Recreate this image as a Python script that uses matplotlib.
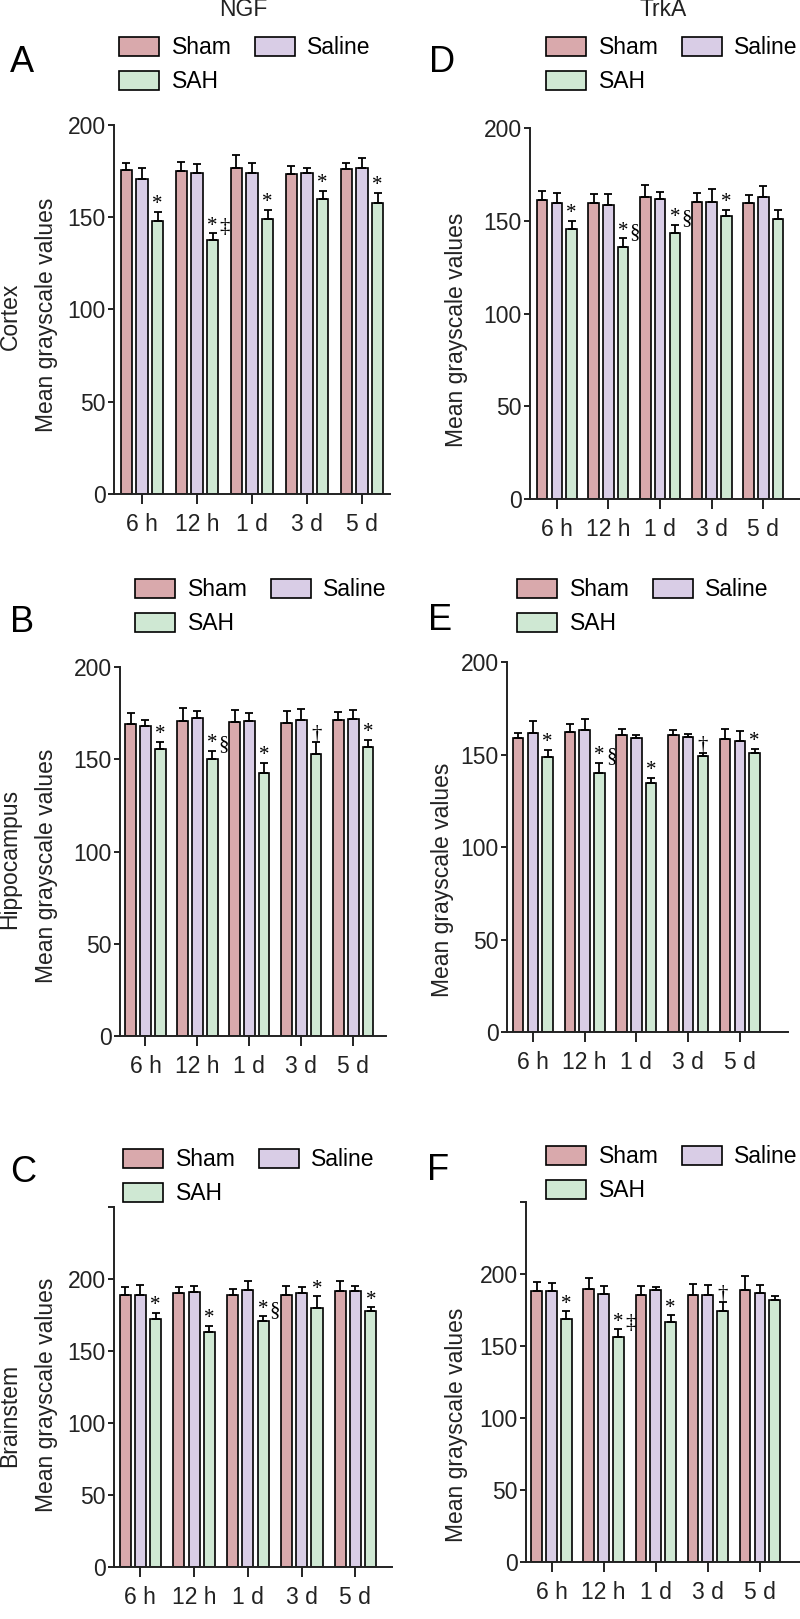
import matplotlib
matplotlib.use("Agg")
import matplotlib.pyplot as plt
from matplotlib.patches import Patch
import numpy as np

plt.rcParams['font.family'] = ['Liberation Sans', 'DejaVu Sans']

W, H = 800, 1619

times = ['6 h', '12 h', '1 d', '3 d', '5 d']
groups = ['Sham', 'Saline', 'SAH']
colors = ['#d9a9ac', '#d9cde6', '#cfe8d3']

# NGF - cortex (A)
a_sham = [175.6, 175.3, 176.5, 173.5, 176.4]
a_sham_sem = [4.0, 4.5, 7.3, 4.5, 3.0]
a_saline = [170.8, 173.8, 174.2, 173.8, 176.9]
a_saline_sem = [6.1, 5.1, 5.0, 3.1, 5.0]
a_sah = [147.8, 137.7, 149.1, 159.7, 157.6]
a_sah_sem = [5.3, 3.6, 4.9, 4.6, 5.4]
a_marks = ['*', '*‡', '*', '*', '*']

# NGF - hippocampus (B)
b_sham = [169.3, 170.9, 170.0, 169.9, 171.1]
b_sham_sem = [5.8, 6.9, 6.5, 6.3, 4.7]
b_saline = [167.9, 172.6, 170.8, 171.5, 171.7]
b_saline_sem = [3.6, 3.4, 4.3, 5.9, 4.8]
b_sah = [155.8, 150.4, 142.8, 153.1, 156.7]
b_sah_sem = [3.8, 4.1, 5.2, 6.1, 3.9]
b_marks = ['*', '*§', '*', '†', '*']

# NGF - brainstem (C)
c_sham = [189.1, 190.3, 188.7, 188.9, 191.4]
c_sham_sem = [5.3, 3.9, 4.4, 6.5, 7.4]
c_saline = [189.1, 191.0, 192.6, 190.3, 191.4]
c_saline_sem = [7.0, 4.1, 6.2, 4.1, 3.7]
c_sah = [172.5, 163.4, 170.8, 179.9, 177.8]
c_sah_sem = [3.7, 4.2, 3.3, 8.1, 2.5]
c_marks = ['*', '*', '*§', '*', '*']

# TrkA - cortex (D)
d_sham = [161.2, 159.5, 162.8, 160.3, 159.7]
d_sham_sem = [5.0, 4.9, 6.6, 4.7, 4.0]
d_saline = [159.4, 158.3, 161.5, 160.3, 162.6]
d_saline_sem = [5.6, 6.1, 3.8, 6.7, 6.4]
d_sah = [145.5, 136.0, 143.3, 152.3, 150.7]
d_sah_sem = [4.5, 4.5, 4.5, 3.6, 5.1]
d_marks = ['*', '*§', '*§', '*', '']

# TrkA - hippocampus (E)
e_sham = [158.9, 162.0, 160.5, 160.4, 158.2]
e_sham_sem = [2.9, 4.3, 3.5, 2.6, 5.8]
e_saline = [161.6, 163.4, 158.7, 159.6, 157.5]
e_saline_sem = [6.3, 6.0, 1.8, 1.7, 5.0]
e_sah = [148.5, 140.0, 134.6, 149.0, 150.8]
e_sah_sem = [4.1, 5.6, 2.9, 2.0, 2.2]
e_marks = ['*', '*§', '*', '†', '*']

# TrkA - brainstem (F)
f_sham = [188.2, 189.6, 185.2, 185.6, 188.6]
f_sham_sem = [6.0, 7.9, 6.2, 7.2, 10.0]
f_saline = [187.9, 186.1, 188.9, 185.2, 187.0]
f_saline_sem = [5.8, 5.6, 2.3, 7.2, 5.6]
f_sah = [168.5, 156.0, 166.6, 174.5, 182.2]
f_sah_sem = [5.5, 5.5, 4.7, 6.3, 2.5]
f_marks = ['*', '*‡', '*', '†', '']


def box(x0, x1, ytop, ybot):
    return [x0 / W, 1 - ybot / H, (x1 - x0) / W, (ybot - ytop) / H]


def draw_panel(ax, means, sems, marks, xlim, ytop, step, width):
    x = np.arange(len(times))
    for i, (m, s) in enumerate(zip(means, sems)):
        xs = x + (i - 1) * step
        ax.bar(xs, m, width, color=colors[i], edgecolor='black', linewidth=1.2, zorder=2)
        ax.errorbar(xs, m, yerr=[np.zeros(len(s)), s], fmt='none', ecolor='black',
                    elinewidth=1.3, capsize=3, capthick=1.3, zorder=3)
    sah_top = np.array(means[2]) + np.array(sems[2])
    for j, mk in enumerate(marks):
        if not mk:
            continue
        xs = x[j] + step
        ax.annotate(mk[0], xy=(xs, sah_top[j]), xytext=(0, 2), textcoords='offset points',
                    ha='center', va='baseline', fontsize=15, family='Liberation Serif')
        if len(mk) > 1:
            ax.annotate(mk[1], xy=(xs, sah_top[j]), xytext=(8.5, 1), textcoords='offset points',
                        ha='center', va='baseline', fontsize=15, family='Liberation Serif')
    ax.set_xlim(*xlim)
    ax.set_ylim(0, ytop)
    ax.set_xticks(x)
    ax.set_xticklabels(times)
    yt = list(range(0, ytop + 1, 50))
    ax.set_yticks(yt)
    ax.set_yticklabels([str(v) if v <= 200 else '' for v in yt])
    for sp in ['top', 'right']:
        ax.spines[sp].set_visible(False)
    for sp in ['left', 'bottom']:
        ax.spines[sp].set_linewidth(1.4)
        ax.spines[sp].set_color('#222222')
    ax.tick_params(axis='y', length=4, width=1.4, pad=2, labelsize=16.5, colors='#222222')
    ax.tick_params(axis='x', length=7, width=1.4, pad=7, labelsize=16.5, colors='#222222')


fig = plt.figure(figsize=(W / 100, H / 100), dpi=100)

panels = [
    (box(114, 390, 125, 494), [a_sham, a_saline, a_sah], [a_sham_sem, a_saline_sem, a_sah_sem],
     a_marks, (-0.51, 4.51), 200, 'A', (22, 62), (119, 36), 'Cortex', (10, 316), (47, 315)),
    (box(530, 800, 128, 499), [d_sham, d_saline, d_sah], [d_sham_sem, d_saline_sem, d_sah_sem],
     d_marks, (-0.52, 4.71), 200, 'D', (442, 63), (546, 36), None, None, (457, 330)),
    (box(120, 386, 667, 1036), [b_sham, b_saline, b_sah], [b_sham_sem, b_saline_sem, b_sah_sem],
     b_marks, (-0.49, 4.63), 200, 'B', (22, 622), (135, 578), 'Hippocampus', (10, 859), (47, 866)),
    (box(507, 788, 662, 1032), [e_sham, e_saline, e_sah], [e_sham_sem, e_saline_sem, e_sah_sem],
     e_marks, (-0.5, 4.93), 200, 'E', (440, 620), (517, 578), None, None, (442, 880)),
    (box(114, 392, 1207, 1567), [c_sham, c_saline, c_sah], [c_sham_sem, c_saline_sem, c_sah_sem],
     c_marks, (-0.49, 4.68), 250, 'C', (23, 1172), (123, 1148), 'Brainstem', (10, 1415), (47, 1395)),
    (box(526, 800, 1202, 1562), [f_sham, f_saline, f_sah], [f_sham_sem, f_saline_sem, f_sah_sem],
     f_marks, (-0.49, 4.77), 250, 'F', (438, 1170), (546, 1145), None, None, (457, 1425)),
]

for (pos, means, sems, marks, xlim, ytop, letter, lpos, legpos, region, rpos, ypos) in panels:
    ax = fig.add_axes(pos)
    ax.patch.set_alpha(0)
    draw_panel(ax, means, sems, marks, xlim, ytop, 0.285, 0.205)
    fig.text(lpos[0] / W, 1 - lpos[1] / H, letter, fontsize=26, ha='center', va='center')
    fig.text(ypos[0] / W, 1 - ypos[1] / H, 'Mean grayscale values', rotation=90,
             fontsize=16.5, ha='center', va='center', color='#222222')
    if region:
        fig.text(rpos[0] / W, 1 - rpos[1] / H, region, rotation=90,
                 fontsize=16.5, ha='center', va='center', color='#222222')
    handles = [Patch(facecolor=colors[0], edgecolor='black', linewidth=1.2, label='Sham'),
               Patch(facecolor=colors[2], edgecolor='black', linewidth=1.2, label='SAH'),
               Patch(facecolor=colors[1], edgecolor='black', linewidth=1.2, label='Saline')]
    fig.legend(handles=handles, ncol=2, loc='upper left',
               bbox_to_anchor=(legpos[0] / W, 1 - legpos[1] / H), frameon=False,
               fontsize=16.5, borderpad=0, borderaxespad=0, handlelength=1.75,
               handleheight=0.9, handletextpad=0.55, columnspacing=1.0, labelspacing=0.5)

fig.text(243 / W, 1 - 9 / H, 'NGF', fontsize=16.5, ha='center', va='center', color='#222222')
fig.text(663 / W, 1 - 9 / H, 'TrkA', fontsize=16.5, ha='center', va='center', color='#222222')

fig.savefig('out.png', dpi=100)
